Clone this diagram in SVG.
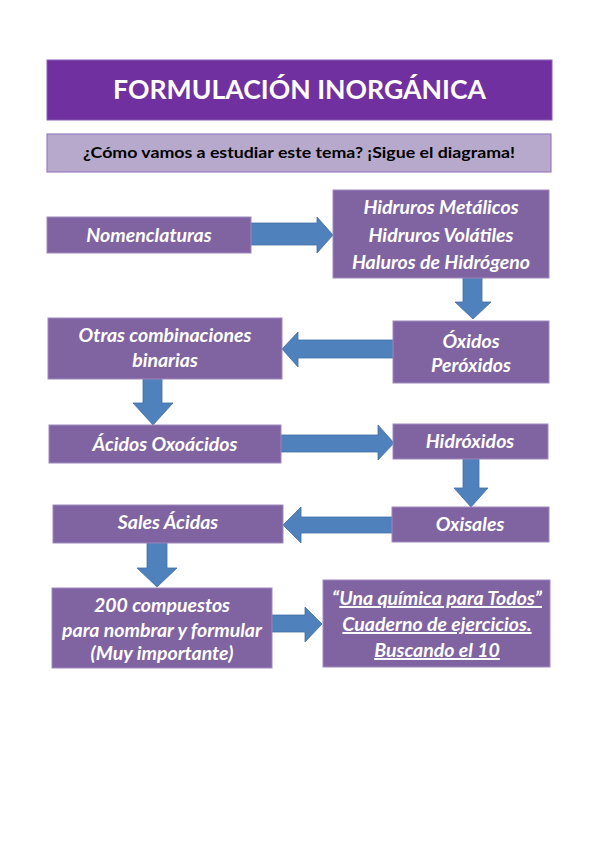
<svg xmlns="http://www.w3.org/2000/svg" width="599" height="848" viewBox="0 0 599 848">
<style>
.box{fill:#8064A2;stroke:#9F88BF;stroke-width:1}
.arr{fill:#4F81BD;stroke:#3F6EA6;stroke-width:0.8}
.t{font-family:Lato,"Open Sans",sans-serif;font-weight:bold;font-style:italic;font-size:19.5px;fill:#fff;text-anchor:middle}
.u{text-decoration:underline}
</style>
<rect width="599" height="848" fill="#fff"/>
<g id="title">
<rect x="47" y="60" width="505" height="60" fill="#7030A0" stroke="#8A5CB5" stroke-width="1"/>
<text x="299.5" y="99" font-family="Lato,'Open Sans',sans-serif" font-weight="bold" font-size="27" fill="#fff" text-anchor="middle" textLength="373" lengthAdjust="spacingAndGlyphs">FORMULACIÓN INORGÁNICA</text>
</g>
<g id="subtitle">
<rect x="47" y="134" width="504" height="38" fill="#B7A9CC" stroke="#9A7EBE" stroke-width="1.2"/>
<text x="299" y="158" font-family="Lato,'Open Sans',sans-serif" font-weight="bold" font-size="15" fill="#000" text-anchor="middle" textLength="432" lengthAdjust="spacingAndGlyphs">¿Cómo vamos a estudiar este tema? ¡Sigue el diagrama!</text>
</g>
<g id="connectors">
<polygon class="arr" points="251,223 317,223 317,217 333,235 317,253 317,245 251,245"/>
<polygon class="arr" points="463,278 482,278 482,302 491,302 473,319 455,302 463,302"/>
<polygon class="arr" points="393,340 298,340 298,332 282,349 298,367 298,358 393,358"/>
<polygon class="arr" points="143,379 162,379 162,403 173,403 153,425 133,403 143,403"/>
<polygon class="arr" points="281,435 378,435 378,425 394,443 378,460 378,452 281,452"/>
<polygon class="arr" points="463,459 479,459 479,488 488,488 471,507 454,488 463,488"/>
<polygon class="arr" points="392,517 301,517 301,507 283,525 301,543 301,533 392,533"/>
<polygon class="arr" points="147,543 167,543 167,568 177,568 157,587 137,568 147,568"/>
<polygon class="arr" points="272,615 305,615 305,607 322,624 305,642 305,632 272,632"/>
</g>
<g id="nomenclaturas">
<rect class="box" x="47" y="217" width="204" height="36"/>
<text class="t" x="149" y="242">Nomenclaturas</text>
</g>
<g id="hidruros">
<rect class="box" x="333" y="190" width="216" height="88"/>
<text class="t" x="441" y="214">Hidruros Metálicos</text>
<text class="t" x="441" y="242">Hidruros Volátiles</text>
<text class="t" x="441" y="269">Haluros de Hidrógeno</text>
</g>
<g id="oxidos">
<rect class="box" x="393" y="321" width="156" height="62"/>
<text class="t" x="471" y="348">Óxidos</text>
<text class="t" x="471" y="372">Peróxidos</text>
</g>
<g id="otras">
<rect class="box" x="48" y="318" width="234" height="61"/>
<text class="t" x="165" y="342">Otras combinaciones</text>
<text class="t" x="165" y="367">binarias</text>
</g>
<g id="acidos">
<rect class="box" x="49" y="425" width="232" height="38"/>
<text class="t" x="165" y="451">Ácidos Oxoácidos</text>
</g>
<g id="hidroxidos">
<rect class="box" x="393" y="424" width="155" height="35"/>
<text class="t" x="470" y="448">Hidróxidos</text>
</g>
<g id="oxisales">
<rect class="box" x="392" y="507" width="157" height="35"/>
<text class="t" x="470" y="531">Oxisales</text>
</g>
<g id="sales">
<rect class="box" x="53" y="505" width="230" height="38"/>
<text class="t" x="168" y="529">Sales Ácidas</text>
</g>
<g id="compuestos">
<rect class="box" x="52" y="588" width="220" height="80"/>
<text class="t" x="162" y="612">200 compuestos</text>
<text class="t" x="162" y="637">para nombrar y formular</text>
<text class="t" x="162" y="660">(Muy importante)</text>
</g>
<g id="cuaderno">
<rect class="box" x="323" y="580" width="227" height="87"/>
<text class="t" x="437" y="605">“<tspan class="u">Una química para Todos”</tspan></text>
<text class="t u" x="437" y="631">Cuaderno de ejercicios.</text>
<text class="t u" x="437" y="657">Buscando el 10</text>
</g>
</svg>
